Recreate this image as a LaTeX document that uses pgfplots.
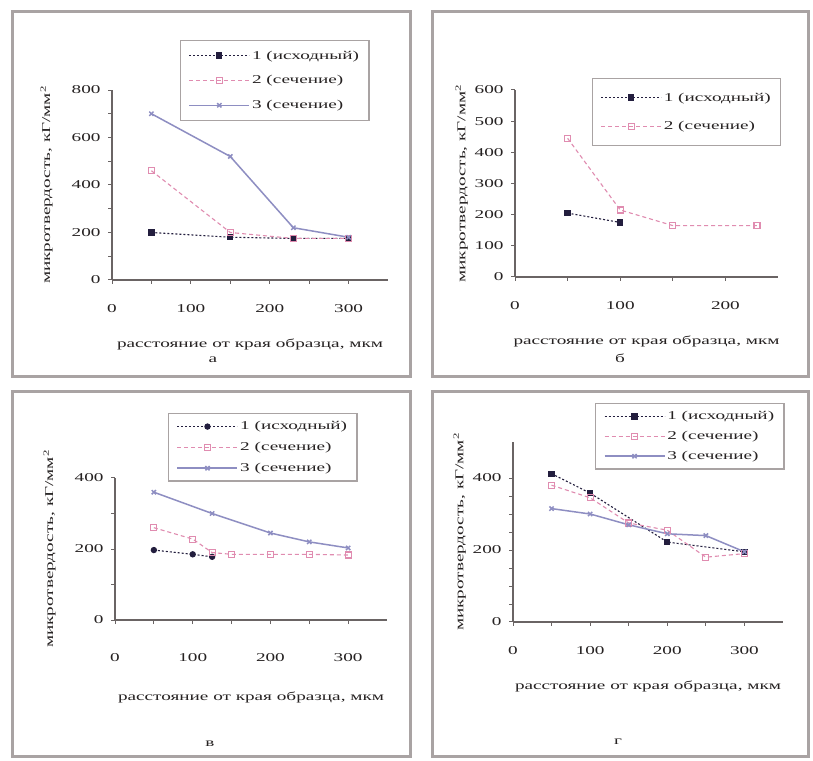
\documentclass[border=0pt]{standalone}
\usepackage{fontspec}
\setmainfont{Liberation Serif}[FakeStretch=1.6]
\usepackage{pgfplots}
\pgfplotsset{compat=1.18}

\definecolor{frameGray}{HTML}{A9A3A3}
\definecolor{axisGray}{HTML}{6A6464}
\definecolor{txtGray}{HTML}{262222}
\definecolor{sOne}{HTML}{231E3E}
\definecolor{sTwo}{HTML}{E08CB0}
\definecolor{sThree}{HTML}{8E8EC2}

\pgfplotsset{
  panel/.style={
    scale only axis,
    axis x line=bottom, axis y line=left,
    every outer x axis line/.append style={-},
    every outer y axis line/.append style={-},
    axis line style={axisGray, line width=1.3pt},
    tick style={axisGray, line width=1pt},
    tick align=outside, major tick length=4pt, minor tick length=4pt,
    minor x tick num=1,
    font=\fontsize{12}{14}\selectfont\color{txtGray},
    /pgf/number format/assume math mode=true,
    xmin=0, ymin=0,
    yticklabel style={xshift=-4pt},
    xlabel={расстояние от края образца, мкм},
    ylabel={микротвердость, кГ/мм\textsuperscript{2}},
    legend cell align=left,
    legend style={draw=frameGray, line width=1.4pt, fill=white,
      font=\fontsize{12}{14}\selectfont\color{txtGray},
      anchor=north west, inner xsep=8pt, inner ysep=6pt},
    legend image code/.code={%
      \draw[mark repeat=2,mark phase=2] plot coordinates {(0pt,0pt) (30pt,0pt) (60pt,0pt)};},
  },
  sA/.style={sOne, line width=1.1pt, dash pattern=on 2pt off 2pt,
    mark=square*, mark size=2.6pt, mark options={solid}},
  sB/.style={sTwo, line width=1.1pt, dash pattern=on 4pt off 3pt,
    mark=square, mark size=3pt, mark options={solid}},
  sC/.style={sThree, line width=1.5pt, mark=x, mark size=3pt},
}

\begin{document}
\begin{tikzpicture}
\path[use as bounding box, fill=white] (0pt,0pt) rectangle (813pt,760pt);
% panel frames
\draw[frameGray, line width=3pt] (12pt,748pt) rectangle (410pt,383pt);
\draw[frameGray, line width=3pt] (432pt,748pt) rectangle (808pt,383pt);
\draw[frameGray, line width=3pt] (12pt,368pt) rectangle (410pt,4pt);
\draw[frameGray, line width=3pt] (432pt,368pt) rectangle (808pt,4pt);

% а
\begin{axis}[panel, at={(112pt,480pt)}, anchor=south west,
  width=276pt, height=190pt, xmax=350, ymax=800,
  xtick={0,100,200,300}, ytick={0,200,400,600,800}, minor y tick num=1,
  ylabel shift=12pt,
  xticklabel style={yshift=-17pt}, xlabel style={yshift=-19pt},
  legend style={at={(0.246,1.263)}, row sep=11pt, inner ysep=8pt}]
\addplot[sA] coordinates {(50,200) (150,180) (230,175) (300,175)};
\addplot[sB] coordinates {(50,460) (150,200) (230,175) (300,175)};
\addplot[sC] coordinates {(50,700) (150,520) (230,220) (300,180)};
\legend{1 (исходный), 2 (сечение), 3 (сечение)}
\end{axis}

% б
\begin{axis}[panel, at={(515pt,483pt)}, anchor=south west,
  width=263pt, height=187pt, xmax=250, ymax=600,
  xtick={0,100,200}, ytick={0,100,...,600},
  xticklabel style={yshift=-17pt}, xlabel style={yshift=-19pt},
  legend style={at={(0.293,1.064)}, row sep=15pt, inner ysep=12pt}]
\addplot[sA] coordinates {(50,205) (100,175)};
\addplot[sB] coordinates {(50,445) (100,215) (150,165) (230,165)};
\legend{1 (исходный), 2 (сечение)}
\end{axis}

% в
\begin{axis}[panel, at={(115pt,140pt)}, anchor=south west,
  width=272pt, height=142pt, xmax=350, ymax=400,
  xtick={0,100,200,300}, ytick={0,200,400}, minor y tick num=1,
  ylabel shift=12pt,
  xticklabel style={yshift=-26pt}, xlabel style={yshift=-23pt},
  legend style={at={(0.195,1.458)}, row sep=7pt}]
\addplot[sA, mark=*] coordinates {(50,197) (100,185) (125,178)};
\addplot[sB] coordinates {(50,260) (100,228) (125,190) (150,185) (200,185) (250,185) (300,183)};
\addplot[sC] coordinates {(50,360) (125,300) (200,245) (250,220) (300,203)};
\legend{1 (исходный), 2 (сечение), 3 (сечение)}
\end{axis}

% г
\begin{axis}[panel, at={(513pt,138pt)}, anchor=south west,
  width=270pt, height=180pt, xmax=350, ymax=500,
  xtick={0,100,200,300}, ytick={0,200,400}, minor y tick num=3,
  xticklabel style={yshift=-17pt}, xlabel style={yshift=-19pt},
  legend style={at={(0.304,1.217)}, row sep=6pt}]
\addplot[sA] coordinates {(50,412) (100,358) (200,222) (300,195)};
\addplot[sB] coordinates {(50,380) (100,345) (150,275) (200,255) (250,180) (300,190)};
\addplot[sC] coordinates {(50,315) (100,300) (150,270) (200,245) (250,240) (300,195)};
\legend{1 (исходный), 2 (сечение), 3 (сечение)}
\end{axis}

% subfigure letters
\begin{scope}[font=\fontsize{12}{14}\selectfont\color{txtGray}]
\node at (213pt,400pt) {а};
\node at (620pt,402pt) {б};
\node at (210pt,16pt) {в};
\node at (618pt,18pt) {г};
\end{scope}
\end{tikzpicture}
\end{document}
